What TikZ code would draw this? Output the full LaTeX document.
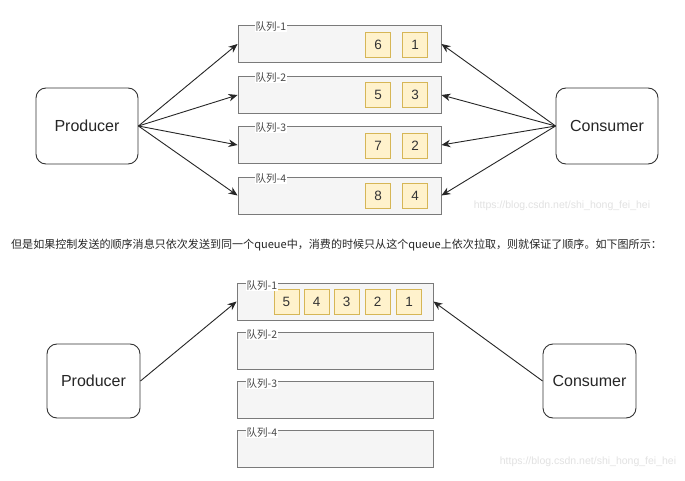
\documentclass[tikz,border=0pt]{standalone}
\usepackage{fontspec}
\setmainfont{Liberation Sans}
\newfontfamily\cjk{Noto Sans CJK SC}
\usetikzlibrary{arrows.meta}
\definecolor{qfill}{HTML}{F5F5F5}
\definecolor{qdraw}{HTML}{7A7A7A}
\definecolor{mfill}{HTML}{FFF2CC}
\definecolor{mdraw}{HTML}{D6B656}
\definecolor{lblc}{HTML}{484848}
\definecolor{wmark}{HTML}{E2E2E2}
\tikzset{
  actor/.style={draw=black!80, line width=0.9pt, rounded corners=10pt, fill=white,
    font=\fontsize{16}{18}\selectfont, text=black!85},
  queuebox/.style={draw=qdraw, fill=qfill, line width=0.9pt, minimum height=37pt},
  msg/.style={draw=mdraw, fill=mfill, line width=0.8pt, minimum width=25pt, minimum height=25pt,
    inner sep=0pt, font=\fontsize{13.5}{16}\selectfont, text=black!80},
  qlabel/.style={anchor=west, font=\cjk\fontsize{10.5}{12}\selectfont, text=lblc,
    inner sep=0.5pt, fill=white},
  arr/.style={draw=black!85, line width=0.9pt, -{Stealth[length=9pt,width=7.5pt]}},
  wm/.style={font=\fontsize{10.5}{12}\selectfont, text=wmark}
}
\begin{document}
\begin{tikzpicture}[x=1pt,y=-1pt]
\useasboundingbox[fill=white] (0,0) rectangle (685,481);

% ---------- top diagram ----------
\node[actor, minimum width=102pt, minimum height=76pt] (p1) at (87,126) {Producer};
\node[actor, minimum width=102pt, minimum height=76pt] (c1) at (607,126) {Consumer};

\node[queuebox, minimum width=203pt] (q11) at (339.5,44) {};
\node[queuebox, minimum width=203pt] (q12) at (339.5,95) {};
\node[queuebox, minimum width=203pt] (q13) at (339.5,145) {};
\node[queuebox, minimum width=203pt] (q14) at (339.5,195.5) {};

\node[qlabel] (l11) at (255,27) {队列-1};
\node[qlabel] (l12) at (255,78) {队列-2};
\node[qlabel] (l13) at (255,128) {队列-3};
\node[qlabel] (l14) at (255,179) {队列-4};

\node[msg] (m11a) at (378,44.5) {6};
\node[msg] (m11b) at (415,44.5) {1};
\node[msg] (m12a) at (378,95) {5};
\node[msg] (m12b) at (415,95) {3};
\node[msg] (m13a) at (378,145.5) {7};
\node[msg] (m13b) at (415,145.5) {2};
\node[msg] (m14a) at (378,196) {8};
\node[msg] (m14b) at (415,196) {4};

\draw[arr] (p1.east) -- (q11.west);
\draw[arr] (p1.east) -- (q12.west);
\draw[arr] (p1.east) -- (q13.west);
\draw[arr] (p1.east) -- (q14.west);
\draw[arr] (c1.west) -- (q11.east);
\draw[arr] (c1.west) -- (q12.east);
\draw[arr] (c1.west) -- (q13.east);
\draw[arr] (c1.west) -- (q14.east);

\node[wm] (w1) at (562,206) {https://blog.csdn.net/shi\_hong\_fei\_hei};

% ---------- sentence ----------
\node[anchor=west, inner sep=0pt, font=\cjk\fontsize{11.05}{13}\selectfont, text=black!85] (s) at (11,245)
  {但是如果控制发送的顺序消息只依次发送到同一个queue中，消费的时候只从这个queue上依次拉取，则就保证了顺序。如下图所示：};

% ---------- bottom diagram ----------
\node[actor, minimum width=93pt, minimum height=74pt] (p2) at (93.5,381) {Producer};
\node[actor, minimum width=93pt, minimum height=74pt] (c2) at (589.5,381) {Consumer};

\node[queuebox, minimum width=196pt] (q21) at (335,301.5) {};
\node[queuebox, minimum width=196pt] (q22) at (335,350.5) {};
\node[queuebox, minimum width=196pt] (q23) at (335,399.5) {};
\node[queuebox, minimum width=196pt] (q24) at (335,449) {};

\node[msg] (m21) at (286.5,301.5) {5};
\node[msg] (m22) at (316.5,301.5) {4};
\node[msg] (m23) at (346.5,301.5) {3};
\node[msg] (m24) at (377.5,301.5) {2};
\node[msg] (m25) at (409,301.5) {1};

\node[qlabel] (l21) at (246,286) {队列-1};
\node[qlabel] (l22) at (246,335) {队列-2};
\node[qlabel] (l23) at (246,384) {队列-3};
\node[qlabel] (l24) at (246,433) {队列-4};

\draw[arr] (p2.east) -- (q21.west);
\draw[arr] (c2.west) -- (q21.east);

\node[wm] (w2) at (588,462) {https://blog.csdn.net/shi\_hong\_fei\_hei};
\end{tikzpicture}
\end{document}
